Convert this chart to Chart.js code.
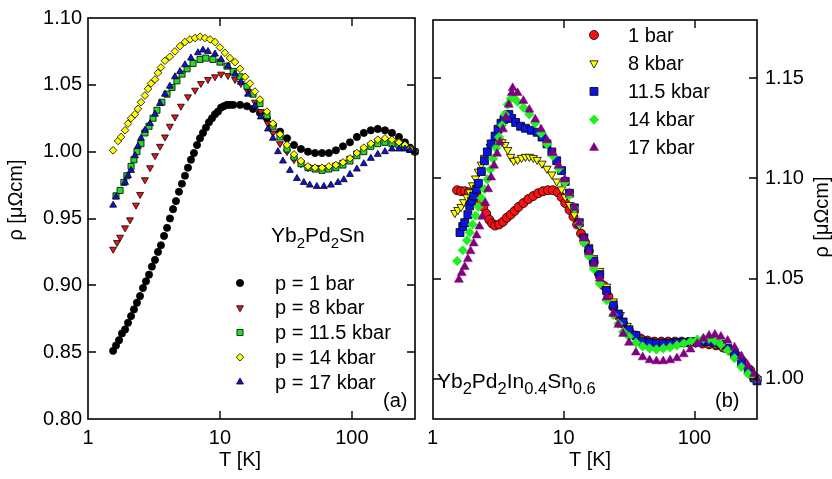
<!DOCTYPE html>
<html>
<head>
<meta charset="utf-8">
<script src="https://cdn.jsdelivr.net/npm/chart.js@4.4.1/dist/chart.umd.min.js"></script>
<style>
  body { margin: 0; background: #fff; }
  #wrap { position: relative; width: 832px; height: 479px; }
  #ca { position: absolute; left: 0; top: 0; }
  #cb { position: absolute; left: 420px; top: 0; }
</style>
</head>
<body>
<div id="wrap">
  <canvas id="ca" width="420" height="479"></canvas>
  <canvas id="cb" width="412" height="479"></canvas>
</div>
<script>
// tick values
const xTicks = [1, 10, 100];
const yTicksA = [0.80, 0.85, 0.90, 0.95, 1.00, 1.05, 1.10];
const yTicksB = [1.00, 1.05, 1.10, 1.15];

const labelsA = ['p = 1 bar', 'p = 8 kbar', 'p = 11.5 kbar', 'p = 14 kbar', 'p = 17 kbar'];
const labelsB = ['1 bar', '8 kbar', '11.5 kbar', '14 kbar', '17 kbar'];

// ---- panel (a): Yb2Pd2Sn ----
const aT1 = [1.55, 1.63, 1.72, 1.81, 1.91, 2.01, 2.12, 2.23, 2.35, 2.48, 2.61, 2.75, 2.90, 3.05, 3.22, 3.39, 3.57, 3.77, 3.97, 4.18, 4.41, 4.64, 4.89, 5.15, 5.43, 5.72, 6.03, 6.35, 6.70, 7.06, 7.43, 7.83, 8.25, 8.70, 9.17, 9.66, 10.2, 10.7, 11.3, 11.9, 12.6,
  14.2, 16.0, 17.8, 20.1, 22.7, 25.2, 28.5, 32.2, 36.4, 41.1, 46.4, 52.5, 59.3, 66.9, 75.6, 85.5, 96.6, 109, 123, 139, 157, 178, 201, 227, 252, 275, 300];
const aR1 = [0.851, 0.855, 0.859, 0.864, 0.867, 0.872, 0.877, 0.882, 0.887, 0.892, 0.898, 0.903, 0.908, 0.914, 0.919, 0.925, 0.930, 0.937, 0.943, 0.950, 0.957, 0.963, 0.970, 0.976, 0.982, 0.988, 0.994, 0.999, 1.005, 1.010, 1.014, 1.018, 1.022, 1.025, 1.028, 1.030, 1.033, 1.034, 1.035, 1.035, 1.035,
  1.035, 1.034, 1.032, 1.029, 1.025, 1.020, 1.015, 1.010, 1.005, 1.002, 1.000, 0.999, 0.999, 0.999, 1.001, 1.004, 1.007, 1.011, 1.014, 1.016, 1.017, 1.016, 1.014, 1.011, 1.007, 1.003, 1.000];

const aT8 = [1.55, 1.66, 1.75, 1.91, 2.08, 2.31, 2.48, 2.70, 2.95, 3.22, 3.51, 3.83, 4.17, 4.56, 5.06, 5.72, 6.47, 7.17, 8.11, 9.17, 10.2, 11.5, 13.0, 14.4, 16.3, 18.4, 20.4, 23.1, 25.2, 28.5, 32.2, 36.4, 41.1, 46.4, 52.5, 59.3, 66.9, 75.6, 85.5, 96.6, 109, 123, 139, 157, 178, 201, 227, 252, 275, 300];
const aR8 = [0.927, 0.932, 0.936, 0.943, 0.949, 0.960, 0.968, 0.979, 0.988, 0.997, 1.004, 1.011, 1.019, 1.026, 1.034, 1.041, 1.046, 1.051, 1.054, 1.056, 1.058, 1.057, 1.054, 1.051, 1.045, 1.037, 1.030, 1.021, 1.014, 1.006, 1.000, 0.994, 0.991, 0.988, 0.988, 0.988, 0.988, 0.990, 0.992, 0.995, 0.999, 1.002, 1.005, 1.008, 1.008, 1.008, 1.006, 1.004, 1.002, 1.000];

const aT115 = [1.63, 1.75, 1.87, 1.97, 2.12, 2.23, 2.35, 2.52, 2.70, 2.90, 3.11, 3.33, 3.63, 3.97, 4.33, 4.72, 5.16, 5.63, 6.25, 7.06, 7.80, 8.84, 10.0, 11.3, 12.6, 14.2, 16.0, 17.8, 20.1, 22.7, 25.2, 28.5, 32.2, 36.4, 41.1, 46.4, 52.5, 59.3, 66.9, 75.6, 85.5, 96.6, 109, 123, 139, 157, 178, 201, 227, 252, 275, 300];
const aR115 = [0.967, 0.971, 0.977, 0.982, 0.989, 0.994, 1.000, 1.006, 1.014, 1.019, 1.025, 1.031, 1.037, 1.043, 1.048, 1.053, 1.058, 1.062, 1.066, 1.069, 1.070, 1.069, 1.067, 1.064, 1.060, 1.056, 1.049, 1.043, 1.036, 1.027, 1.019, 1.011, 1.002, 0.996, 0.991, 0.988, 0.987, 0.986, 0.987, 0.988, 0.990, 0.993, 0.997, 1.000, 1.004, 1.006, 1.007, 1.006, 1.005, 1.004, 1.002, 1.000];

const aT14 = [1.55, 1.69, 1.78, 1.91, 2.01, 2.12, 2.27, 2.39, 2.52, 2.70, 2.85, 3.00, 3.22, 3.39, 3.57, 3.83, 4.17, 4.56, 4.98, 5.43, 5.93, 6.47, 7.06, 7.70, 8.40, 9.17, 10.0, 10.9, 11.9, 13.0, 14.2, 15.5, 16.9, 18.4, 20.1, 22.7, 25.2, 28.5, 32.2, 36.4, 41.1, 46.4, 52.5, 59.3, 66.9, 75.6, 85.5, 96.6, 109, 123, 139, 157, 178, 201, 227, 252, 275, 300];
const aR14 = [1.001, 1.008, 1.011, 1.016, 1.021, 1.025, 1.028, 1.032, 1.037, 1.042, 1.047, 1.051, 1.054, 1.059, 1.063, 1.068, 1.071, 1.075, 1.079, 1.082, 1.084, 1.085, 1.086, 1.085, 1.084, 1.082, 1.078, 1.074, 1.070, 1.067, 1.062, 1.056, 1.051, 1.045, 1.039, 1.030, 1.021, 1.013, 1.005, 0.998, 0.993, 0.989, 0.988, 0.988, 0.989, 0.990, 0.992, 0.995, 0.999, 1.003, 1.006, 1.009, 1.010, 1.009, 1.007, 1.005, 1.002, 1.000];

const aT17 = [1.55, 1.63, 1.91, 2.01, 2.12, 2.27, 2.39, 2.52, 2.70, 2.95, 3.22, 3.51, 3.83, 4.17, 4.56, 4.98, 5.43, 6.03, 6.81, 7.43, 8.11, 9.17, 10.2, 11.5, 13.0, 14.4, 16.3, 18.4, 20.4, 23.1, 25.2, 27.5, 30.0, 33.9, 38.3, 43.2, 47.9, 54.2, 61.3, 69.3, 78.4, 86.8, 96.6, 109, 123, 139, 157, 178, 201, 227, 252, 275, 300];
const aR17 = [0.960, 0.966, 0.977, 0.982, 0.986, 0.997, 1.004, 1.010, 1.016, 1.021, 1.028, 1.036, 1.043, 1.049, 1.056, 1.060, 1.065, 1.070, 1.074, 1.076, 1.075, 1.073, 1.069, 1.064, 1.058, 1.052, 1.043, 1.034, 1.026, 1.017, 1.010, 1.000, 0.993, 0.986, 0.980, 0.977, 0.975, 0.974, 0.974, 0.975, 0.977, 0.979, 0.983, 0.987, 0.991, 0.995, 0.998, 1.000, 1.002, 1.002, 1.002, 1.001, 1.000];

// ---- panel (b): Yb2Pd2In0.4Sn0.6 ----
const bT1 = [1.54, 1.65, 1.76, 1.89, 2.02, 2.17, 2.32, 2.44, 2.57, 2.71, 2.85, 3.00, 3.22, 3.45, 3.69, 3.95, 4.24, 4.54, 4.94, 5.39, 5.87, 6.40, 6.97, 7.60, 8.28, 9.02, 9.66, 10.3, 11.1, 11.9, 12.7, 13.6, 14.6, 15.6, 17.0, 18.6, 20.2, 22.0, 24.0, 26.2, 28.5, 31.6, 35.1, 38.9, 43.8, 49.4, 55.8, 62.9, 70.9, 80.0, 90.2, 102, 115, 129, 146, 165, 186, 209, 236, 266, 300];
const bR1 = [1.0941, 1.0936, 1.0936, 1.0931, 1.0926, 1.0917, 1.0892, 1.0858, 1.0824, 1.0794, 1.0775, 1.0765, 1.0770, 1.0784, 1.0804, 1.0819, 1.0838, 1.0858, 1.0877, 1.0897, 1.0912, 1.0926, 1.0936, 1.0941, 1.0941, 1.0931, 1.0907, 1.0877, 1.0843, 1.0809, 1.0770, 1.0725, 1.0681, 1.0637, 1.0583, 1.0525, 1.0466, 1.0412, 1.0358, 1.0314, 1.0275, 1.0240, 1.0216, 1.0201, 1.0191, 1.0186, 1.0186, 1.0186, 1.0186, 1.0186, 1.0181, 1.0181, 1.0176, 1.0172, 1.0167, 1.0157, 1.0142, 1.0118, 1.0083, 1.0044, 1.000];

const bT8 = [1.48, 1.56, 1.65, 1.73, 1.83, 1.92, 2.02, 2.13, 2.24, 2.36, 2.49, 2.62, 2.76, 2.90, 3.06, 3.22, 3.39, 3.57, 3.75, 3.95, 4.16, 4.46, 4.78, 5.12, 5.48, 5.87, 6.29, 6.85, 7.47, 8.14, 8.87, 9.66, 10.3, 11.1, 12.1, 13.2, 14.3, 15.6, 17.0, 18.9, 21.3, 24.0, 27.1, 30.6, 34.5, 38.9, 43.8, 49.4, 55.8, 62.9, 70.9, 80.0, 90.2, 102, 115, 129, 143, 159, 179, 202, 228, 257, 285, 300];
const bR8 = [1.0828, 1.0843, 1.0858, 1.0882, 1.0907, 1.0931, 1.0966, 1.1000, 1.1034, 1.1069, 1.1103, 1.1132, 1.1157, 1.1172, 1.1181, 1.1186, 1.1181, 1.1167, 1.1142, 1.1108, 1.1088, 1.1093, 1.1103, 1.1108, 1.1108, 1.1103, 1.1093, 1.1074, 1.1049, 1.1020, 1.0985, 1.0946, 1.0907, 1.0868, 1.0819, 1.0765, 1.0711, 1.0657, 1.0603, 1.0539, 1.0461, 1.0387, 1.0319, 1.0265, 1.0225, 1.0201, 1.0191, 1.0186, 1.0186, 1.0186, 1.0186, 1.0186, 1.0181, 1.0181, 1.0181, 1.0176, 1.0172, 1.0162, 1.0147, 1.0118, 1.0083, 1.0044, 1.0010, 1.000];

const bT115 = [1.62, 1.70, 1.76, 1.86, 1.92, 1.99, 2.06, 2.17, 2.24, 2.36, 2.49, 2.62, 2.80, 3.00, 3.16, 3.33, 3.51, 3.69, 3.82, 4.02, 4.31, 4.70, 5.12, 5.67, 6.29, 6.85, 7.47, 8.14, 8.87, 9.66, 10.3, 11.1, 12.1, 13.2, 14.3, 15.6, 17.0, 18.9, 21.3, 24.0, 26.2, 28.5, 31.6, 35.7, 40.2, 45.4, 51.2, 57.7, 65.1, 73.4, 82.8, 93.3, 105, 117, 129, 143, 159, 179, 202, 228, 257, 285, 300];
const bR115 = [1.0730, 1.0760, 1.0779, 1.0819, 1.0863, 1.0887, 1.0912, 1.0946, 1.0975, 1.1034, 1.1088, 1.1132, 1.1172, 1.1211, 1.1245, 1.1275, 1.1294, 1.1314, 1.1319, 1.1299, 1.1279, 1.1260, 1.1250, 1.1240, 1.1230, 1.1206, 1.1172, 1.1132, 1.1088, 1.1039, 1.0985, 1.0926, 1.0853, 1.0779, 1.0701, 1.0647, 1.0588, 1.0520, 1.0441, 1.0368, 1.0324, 1.0284, 1.0245, 1.0216, 1.0186, 1.0181, 1.0176, 1.0176, 1.0176, 1.0181, 1.0181, 1.0186, 1.0186, 1.0186, 1.0186, 1.0181, 1.0172, 1.0152, 1.0123, 1.0083, 1.0044, 1.0005, 0.999];

const bT14 = [1.54, 1.70, 1.83, 1.92, 2.02, 2.13, 2.24, 2.36, 2.49, 2.62, 2.76, 2.90, 3.06, 3.22, 3.39, 3.57, 3.75, 3.95, 4.16, 4.46, 4.94, 5.48, 6.08, 6.73, 7.47, 8.28, 9.18, 10.2, 11.1, 12.1, 13.2, 14.3, 15.6, 17.0, 18.9, 21.3, 24.0, 26.2, 28.5, 31.6, 35.7, 40.2, 45.4, 51.2, 57.7, 65.1, 73.4, 82.8, 93.3, 105, 117, 129, 143, 159, 179, 202, 228, 257, 285, 300];
const bR14 = [1.0588, 1.0642, 1.0691, 1.0730, 1.0770, 1.0814, 1.0858, 1.0902, 1.0946, 1.0995, 1.1044, 1.1098, 1.1152, 1.1206, 1.1265, 1.1319, 1.1368, 1.1397, 1.1402, 1.1382, 1.1353, 1.1319, 1.1275, 1.1225, 1.1172, 1.1113, 1.1049, 1.0980, 1.0917, 1.0848, 1.0775, 1.0681, 1.0613, 1.0549, 1.0475, 1.0392, 1.0319, 1.0275, 1.0235, 1.0211, 1.0181, 1.0162, 1.0152, 1.0147, 1.0152, 1.0157, 1.0167, 1.0176, 1.0186, 1.0196, 1.0201, 1.0201, 1.0191, 1.0172, 1.0142, 1.0103, 1.0059, 1.0025, 1.0010, 1.000];

const bT17 = [1.59, 1.67, 1.76, 1.86, 1.95, 2.06, 2.17, 2.28, 2.40, 2.53, 2.66, 2.80, 2.95, 3.11, 3.27, 3.45, 3.63, 3.82, 4.02, 4.09, 4.46, 4.94, 5.48, 6.08, 6.73, 7.47, 8.28, 9.18, 10.2, 11.1, 12.1, 13.2, 14.3, 15.6, 17.0, 18.9, 21.3, 24.0, 26.2, 28.5, 31.6, 35.7, 40.2, 45.4, 51.2, 57.7, 65.1, 73.4, 82.8, 93.3, 105, 117, 129, 143, 159, 179, 202, 228, 257, 285, 300];
const bR17 = [1.0495, 1.0529, 1.0559, 1.0598, 1.0637, 1.0676, 1.0716, 1.0760, 1.0809, 1.0877, 1.0946, 1.1005, 1.1064, 1.1123, 1.1181, 1.1245, 1.1304, 1.1368, 1.1426, 1.1451, 1.1426, 1.1387, 1.1343, 1.1294, 1.1245, 1.1191, 1.1127, 1.1064, 1.0995, 1.0926, 1.0853, 1.0779, 1.0701, 1.0632, 1.0574, 1.0500, 1.0407, 1.0324, 1.0270, 1.0225, 1.0181, 1.0132, 1.0108, 1.0093, 1.0088, 1.0088, 1.0093, 1.0103, 1.0123, 1.0147, 1.0176, 1.0201, 1.0216, 1.0221, 1.0211, 1.0191, 1.0157, 1.0113, 1.0064, 1.0025, 1.000];

const FONT = '"Liberation Sans", Arial, Helvetica, sans-serif';

function pts(t, r) {
  return t.map((v, i) => ({ x: v, y: r[i] }));
}

function makeSet(t, r, st, order) {
  return {
    data: pts(t, r),
    showLine: false,
    pointStyle: st.style,
    pointRotation: st.rot || 0,
    pointRadius: st.r,
    backgroundColor: st.fill,
    borderColor: st.edge,
    pointBackgroundColor: st.fill,
    pointBorderColor: st.edge,
    pointBorderWidth: st.bw,
    pointHoverRadius: st.r,
    clip: false,
    order: order
  };
}

const stylesA = [
  { style: 'circle', fill: '#000000', edge: '#000000', bw: 0.8, r: 3.6 },
  { style: 'triangle', rot: 180, fill: '#e8161b', edge: '#000000', bw: 0.8, r: 4 },
  { style: 'rect', fill: '#22dd22', edge: '#000000', bw: 0.8, r: 4.3 },
  { style: 'rectRot', fill: '#ffff00', edge: '#000000', bw: 0.8, r: 3.8 },
  { style: 'triangle', fill: '#1010e0', edge: '#000000', bw: 0.8, r: 4 }
];
const stylesB = [
  { style: 'circle', fill: '#ff1010', edge: '#000000', bw: 0.8, r: 4.5 },
  { style: 'triangle', rot: 180, fill: '#ffff00', edge: '#000000', bw: 0.8, r: 4.8 },
  { style: 'rect', fill: '#0a14e6', edge: '#000000', bw: 0.8, r: 5.6 },
  { style: 'rectRot', fill: '#22ee22', edge: '#22ee22', bw: 0.5, r: 4.8 },
  { style: 'triangle', fill: '#800080', edge: '#800080', bw: 0.5, r: 5.2 }
];

// draws text pieces, 1 = subscript
function drawRich(ctx, parts, x, y, big, small) {
  ctx.textAlign = 'left';
  ctx.textBaseline = 'alphabetic';
  parts.forEach(([s, sub]) => {
    ctx.font = (sub ? small : big) + 'px ' + FONT;
    ctx.fillText(s, x, sub ? y + 6 : y);
    x += ctx.measureText(s).width;
  });
}

const frame = {
  id: 'frame',
  afterDraw(chart, args, o) {
    const { ctx, chartArea: a, scales } = chart;
    const l = Math.round(a.left), r = Math.round(a.right);
    const t = Math.round(a.top), b = Math.round(a.bottom);
    ctx.save();
    ctx.strokeStyle = '#000';
    ctx.fillStyle = '#000';
    ctx.lineWidth = 1.6;
    ctx.strokeRect(l, t, r - l, b - t);
    // inward ticks on all sides
    const L = 8;
    ctx.lineWidth = 1.4;
    ctx.beginPath();
    scales.x.ticks.forEach(tk => {
      const px = Math.round(scales.x.getPixelForValue(tk.value));
      if (px < l + 2 || px > r - 2) return;
      ctx.moveTo(px, b); ctx.lineTo(px, b - L);
      ctx.moveTo(px, t); ctx.lineTo(px, t + L);
    });
    scales.y.ticks.forEach(tk => {
      const py = Math.round(scales.y.getPixelForValue(tk.value));
      if (py < t + 2 || py > b - 2) return;
      ctx.moveTo(l, py); ctx.lineTo(l + L, py);
      ctx.moveTo(r, py); ctx.lineTo(r - L, py);
    });
    ctx.stroke();

    // axis titles
    ctx.font = '20px ' + FONT;
    ctx.textAlign = 'center';
    ctx.textBaseline = 'middle';
    ctx.fillText('T [K]', o.xtitle[0], o.xtitle[1]);
    ctx.save();
    ctx.translate(o.ytitle[0], o.ytitle[1]);
    ctx.rotate(-Math.PI / 2);
    ctx.fillText('\u03C1 [\u03BC\u03A9cm]', 0, 0);
    ctx.restore();

    // legend
    const lg = o.legend;
    chart.data.datasets.forEach((ds, i) => {
      const y = lg.y + i * lg.dy;
      ctx.fillStyle = ds.pointBackgroundColor;
      ctx.strokeStyle = ds.pointBorderColor;
      ctx.lineWidth = ds.pointBorderWidth;
      Chart.helpers.drawPoint(ctx, {
        pointStyle: ds.pointStyle, rotation: ds.pointRotation,
        radius: ds.pointRadius, borderWidth: ds.pointBorderWidth
      }, lg.x, y);
      ctx.fillStyle = '#000';
      ctx.font = '20px ' + FONT;
      ctx.textAlign = 'left';
      ctx.textBaseline = 'middle';
      ctx.fillText(lg.labels[i], lg.tx, y + 1);
    });

    ctx.fillStyle = '#000';
    (o.texts || []).forEach(tx => drawRich(ctx, tx.parts, tx.x, tx.y, tx.big, tx.small));
    ctx.restore();
  }
};

function tickFont() {
  return { family: FONT, size: 20 };
}

function makeChart(id, sets, yMin, yMax, yTicks, side, pad, yWidth, o) {
  return new Chart(document.getElementById(id), {
    type: 'scatter',
    data: { datasets: sets },
    options: {
      responsive: false,
      animation: false,
      events: [],
      layout: { padding: pad },
      plugins: { legend: { display: false }, tooltip: { enabled: false }, frame: o },
      scales: {
        x: {
          type: 'logarithmic', min: 1, max: 300,
          grid: { display: false, drawTicks: false },
          border: { display: false },
          afterBuildTicks: s => { s.ticks = xTicks.map(v => ({ value: v })); },
          afterFit: s => { s.height = 60; },
          ticks: { callback: v => String(v), padding: 7, color: '#000', font: tickFont(), maxRotation: 0, autoSkip: false }
        },
        y: {
          position: side, min: yMin, max: yMax,
          grid: { display: false, drawTicks: false },
          border: { display: false },
          afterBuildTicks: s => { s.ticks = yTicks.map(v => ({ value: v })); },
          afterFit: s => { s.width = yWidth; },
          ticks: { callback: v => v.toFixed(2), padding: side === 'left' ? 6 : 8, color: '#000', font: tickFont() }
        }
      }
    },
    plugins: [frame]
  });
}

const setsA = [
  makeSet(aT1, aR1, stylesA[0], 5),
  makeSet(aT8, aR8, stylesA[1], 4),
  makeSet(aT115, aR115, stylesA[2], 3),
  makeSet(aT14, aR14, stylesA[3], 2),
  makeSet(aT17, aR17, stylesA[4], 1)
];
const setsB = [
  makeSet(bT1, bR1, stylesB[0], 5),
  makeSet(bT8, bR8, stylesB[1], 4),
  makeSet(bT115, bR115, stylesB[2], 3),
  makeSet(bT14, bR14, stylesB[3], 2),
  makeSet(bT17, bR17, stylesB[4], 1)
];

makeChart('ca', setsA, 0.80, 1.10, yTicksA, 'left', { left: 0, right: 5, top: 13, bottom: 0 }, 88, {
  xtitle: [240, 460], ytitle: [16, 200],
  legend: { x: 240, y: 283, dy: 24.75, tx: 275, labels: labelsA },
  texts: [
    { parts: [['Yb', 0], ['2', 1], ['Pd', 0], ['2', 1], ['Sn', 0]], x: 271, y: 242, big: 21, small: 15 },
    { parts: [['(a)', 0]], x: 383, y: 407, big: 20, small: 14 }
  ]
});

makeChart('cb', setsB, 0.98, 1.179, yTicksB, 'right', { left: 5, right: 0, top: 13, bottom: 0 }, 75, {
  xtitle: [170, 460], ytitle: [402, 217],
  legend: { x: 174, y: 35, dy: 28.2, tx: 208, labels: labelsB },
  texts: [
    { parts: [['Yb', 0], ['2', 1], ['Pd', 0], ['2', 1], ['In', 0], ['0.4', 1], ['Sn', 0], ['0.6', 1]], x: 17, y: 388, big: 21, small: 16.5 },
    { parts: [['(b)', 0]], x: 295, y: 407, big: 20, small: 14 }
  ]
});
</script>
</body>
</html>
